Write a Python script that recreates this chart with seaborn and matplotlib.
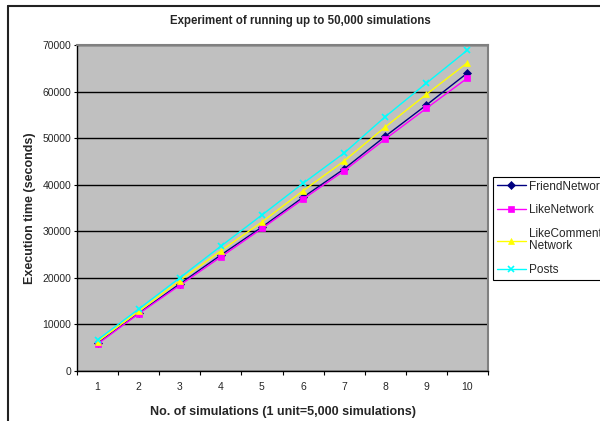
import matplotlib
matplotlib.use('agg')
import matplotlib.pyplot as plt
from matplotlib.lines import Line2D
import numpy as np
import pandas as pd
import seaborn as sns

# values (seconds)
units = list(range(1, 11))
friend_network = [6000, 12400, 18700, 24900, 30900, 37300, 43400, 50400, 57100, 64000]
like_network = [5800, 12300, 18400, 24500, 30600, 36900, 43000, 49800, 56400, 62900]
like_comment_network = [6300, 12800, 19400, 25800, 32000, 38700, 45100, 52400, 59400, 66200]
posts = [6700, 13300, 20000, 26800, 33500, 40300, 46800, 54600, 61800, 68900]

series_names = ['FriendNetwork', 'LikeNetwork', 'LikeCommentNetwork', 'Posts']
legend_labels = ['FriendNetwork', 'LikeNetwork', 'LikeComment\nNetwork', 'Posts']
colors = ['#000080', '#FF00FF', '#FFFF00', '#00FFFF']
markers = ['D', 's', '^', 'x']
y_ticks = list(range(0, 70001, 10000))

df = pd.DataFrame({
    'unit': units * 4,
    'time': friend_network + like_network + like_comment_network + posts,
    'series': [name for name in series_names for _ in units],
})

sns.set_theme(style='white')
plt.rcParams['font.family'] = ['Liberation Sans', 'DejaVu Sans']

W, H = 600, 421
fig = plt.figure(figsize=(6, 4.21), dpi=100)
ax = fig.add_axes([77 / W, 1 - 371 / H, (488 - 77) / W, (371 - 45) / H])
ax.set_facecolor('#C0C0C0')

sns.lineplot(data=df, x='unit', y='time', hue='series',
             hue_order=series_names,
             palette=dict(zip(series_names, colors)),
             marker='o', markersize=5, linewidth=1, legend=False, ax=ax)

# seaborn refuses to mix filled and line-art markers, so set them afterwards
for line, c, m in zip(ax.lines, colors, markers):
    line.set_marker(m)
    line.set_markersize(5 if m != 'D' else 4.5)
    line.set_markeredgecolor(c)
    line.set_markerfacecolor(c)
    line.set_markeredgewidth(1.2 if m == 'x' else 0.5)
    line.set_clip_on(False)

ax.set_xlim(0.5, 10.5)
ax.set_ylim(0, 70000)
ax.set_yticks(y_ticks)
ax.set_xticks(units)
ax.set_xticks(np.arange(0.5, 11, 1), minor=True)
ax.yaxis.grid(True, color='black', linewidth=1)
ax.set_axisbelow(True)

ax.tick_params(axis='y', which='major', direction='out', length=2.5, width=0.8,
               color='black', labelsize=7.5, pad=1.5, left=True)
ax.tick_params(axis='x', which='major', length=0, labelsize=7.5, pad=8)
ax.tick_params(axis='x', which='minor', direction='out', length=3, width=0.8,
               color='black', bottom=True)

for side in ['left', 'bottom']:
    ax.spines[side].set_color('black')
    ax.spines[side].set_linewidth(1)
for side in ['top', 'right']:
    ax.spines[side].set_color('#808080')
    ax.spines[side].set_linewidth(1.5)

ax.set_xlabel('No. of simulations (1 unit=5,000 simulations)', fontsize=9,
              fontweight='bold', labelpad=10)
ax.set_ylabel('Execution time (seconds)', fontsize=9, fontweight='bold', labelpad=5)
fig.text(0.5, 1 - 21 / H, 'Experiment of running up to 50,000 simulations',
         ha='center', va='center', fontsize=8.3, fontweight='bold')

leg = ax.legend(handles=ax.lines[:4], labels=legend_labels,
                loc='upper left', bbox_to_anchor=(493 / W, 1 - 177 / H),
                bbox_transform=fig.transFigure, borderaxespad=0,
                fontsize=8.5, handlelength=2.5, handletextpad=0.25,
                labelspacing=1.0, borderpad=0.3, fancybox=False,
                framealpha=1, edgecolor='black', facecolor='white')
leg.get_frame().set_linewidth(0.8)
for t in leg.get_texts():
    t.set_linespacing(1.0)

# chart frame (cut off at the right and bottom in the reference)
fig.add_artist(Line2D([8 / W, 8 / W], [1 - 6 / H, 0], transform=fig.transFigure,
                      color='#222222', linewidth=1.5))
fig.add_artist(Line2D([8 / W, 1], [1 - 6 / H, 1 - 6 / H], transform=fig.transFigure,
                      color='#222222', linewidth=1.5))

fig.savefig('out.png', dpi=100)
